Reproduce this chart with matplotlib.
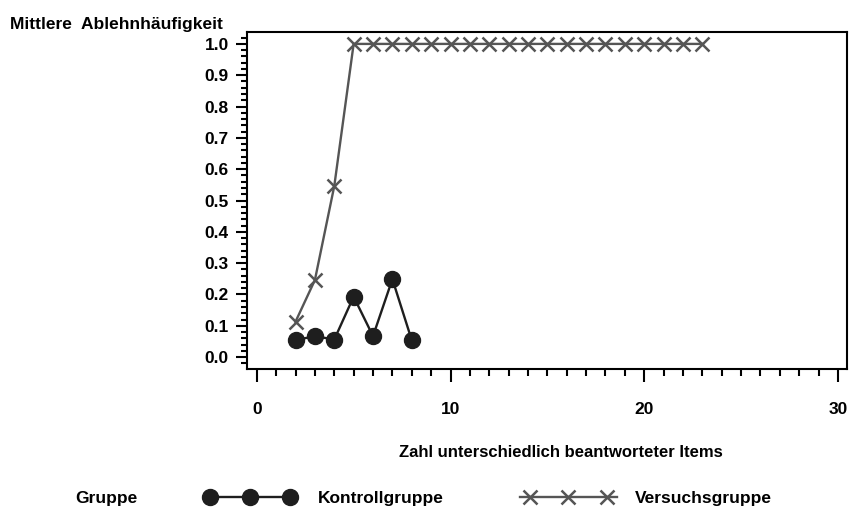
import matplotlib
matplotlib.use("Agg")
import matplotlib.pyplot as plt
from matplotlib.lines import Line2D
from matplotlib.ticker import MultipleLocator

# data
kontroll_x = [2, 3, 4, 5, 6, 7, 8]
kontroll_y = [0.054, 0.067, 0.056, 0.193, 0.067, 0.249, 0.054]

versuch_x = [2, 3, 4, 5, 6, 7, 8, 9, 10, 11, 12, 13, 14, 15, 16, 17, 18, 19, 20, 21, 22, 23]
versuch_y = [0.113, 0.246, 0.546] + [1.0] * 19

y_ticks = [0.0, 0.1, 0.2, 0.3, 0.4, 0.5, 0.6, 0.7, 0.8, 0.9, 1.0]
x_ticks = [0, 10, 20, 30]

plt.rcParams["font.family"] = ["Liberation Sans", "DejaVu Sans"]
plt.rcParams["font.weight"] = "bold"

fs = 12.5

fig = plt.figure(figsize=(8.5, 5.11), dpi=100)
ax = fig.add_axes([246.7 / 850, 1 - 369 / 511, (846.7 - 246.7) / 850, (369 - 31.7) / 511])

c_k = "#1e1e1e"
c_v = "#555555"

ax.plot(versuch_x, versuch_y, color=c_v, lw=1.7, marker="x", ms=10, mew=1.8, zorder=2)
ax.plot(kontroll_x, kontroll_y, color=c_k, lw=1.7, marker="o", ms=11.5, zorder=3)

ax.set_xlim(-0.52, 30.45)
ax.set_ylim(-0.038, 1.039)

ax.set_yticks(y_ticks)
ax.set_yticklabels([f"{v:.1f}" for v in y_ticks], fontsize=fs, fontweight="bold")
ax.yaxis.set_minor_locator(MultipleLocator(0.02))
ax.set_xticks(x_ticks)
ax.set_xticklabels([str(v) for v in x_ticks], fontsize=fs, fontweight="bold")
ax.xaxis.set_minor_locator(MultipleLocator(1))

for s in ax.spines.values():
    s.set_linewidth(1.5)
    s.set_color("black")

ax.tick_params(axis="y", which="major", length=8, width=1.5, pad=5)
ax.tick_params(axis="y", which="minor", length=4.3, width=1.5)
ax.tick_params(axis="x", which="major", length=9.4, width=1.5, pad=14)
ax.tick_params(axis="x", which="minor", length=5, width=1.5)

fig.text(10 / 850, 1 - 28.5 / 511, "Mittlere  Ablehnhäufigkeit", fontsize=fs,
         fontweight="bold", va="baseline", ha="left")
fig.text(561 / 850, 1 - 457 / 511, "Zahl unterschiedlich beantworteter Items",
         fontsize=12, fontweight="bold", va="baseline", ha="center")

# legend row at the bottom
lb = 1 - 503 / 511
lm = 1 - 497 / 511
fig.text(75 / 850, lb, "Gruppe", fontsize=fs, fontweight="bold", va="baseline")
fig.add_artist(Line2D([210 / 850, 250 / 850, 290 / 850], [lm] * 3, color=c_k, lw=1.7,
                      marker="o", ms=11.5, transform=fig.transFigure))
fig.text(318 / 850, lb, "Kontrollgruppe", fontsize=fs, fontweight="bold", va="baseline")
fig.add_artist(Line2D([520 / 850, 617 / 850], [lm] * 2, color=c_v, lw=1.7,
                      transform=fig.transFigure))
fig.add_artist(Line2D([530 / 850, 568 / 850, 607 / 850], [lm] * 3, color=c_v, lw=0,
                      marker="x", ms=10, mew=1.8, transform=fig.transFigure))
fig.text(635 / 850, lb, "Versuchsgruppe", fontsize=fs, fontweight="bold", va="baseline")

fig.savefig("out.png", dpi=100)
